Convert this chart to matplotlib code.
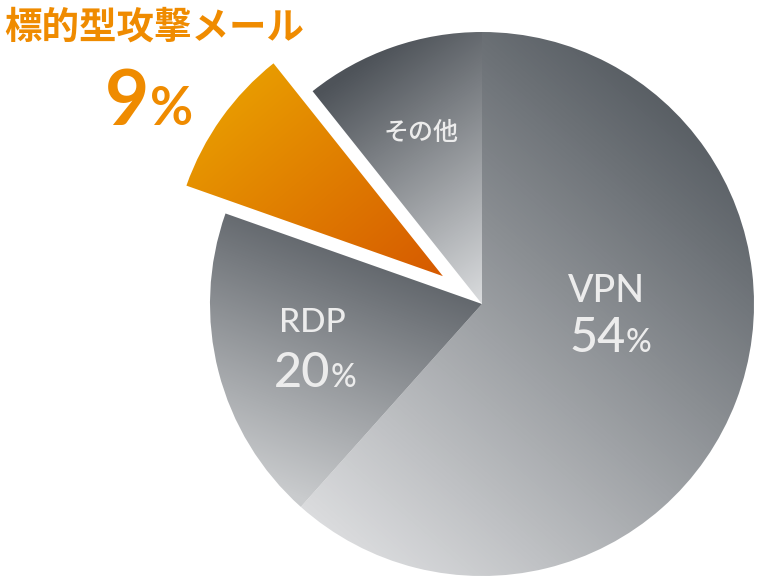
import numpy as np
import matplotlib
matplotlib.use('Agg')
import matplotlib.pyplot as plt
from matplotlib.colors import LinearSegmentedColormap

plt.rcParams['font.family'] = ['Lato', 'Noto Sans CJK JP', 'DejaVu Sans']

# データ (図から読み取り。扇形の角度は図の見た目どおり)
categories = ['VPN', 'RDP', '標的型攻撃メール', 'その他']
shares = [61.6, 18.8, 8.9, 10.7]
pct_values = ['54', '20', '9', '']
explode_px = [0, 0, 48, 0]

# 各扇形のグラデーション (濃い色 -> 明るい色)
grad_colors = [('#4f555b', '#dcdddf'),
               ('#565b61', '#c9cbcd'),
               ('#e89a00', '#d65a00'),
               ('#4e5359', '#d8dadc')]
grad_points = [((720, 90), (330, 540)),
               ((380, 230), (280, 490)),
               ((270, 70), (440, 275)),
               ((330, 85), (480, 300))]

W, H = 761, 580
cx, cy, R = 482, H - 304, 272

fig = plt.figure(figsize=(W / 100, H / 100), dpi=100)
ax = fig.add_axes([0, 0, 1, 1])

wedges, _ = ax.pie(shares, explode=explode_px, radius=R, center=(cx, cy),
                   startangle=90, counterclock=False,
                   wedgeprops=dict(linewidth=0))

# グラデーションを扇形でクリップして描く
xx, yy = np.meshgrid(np.arange(W) + 0.5, np.arange(H) + 0.5)
for wedge, (c0, c1), (p0, p1) in zip(wedges, grad_colors, grad_points):
    d = np.array(p1, float) - np.array(p0, float)
    t = ((xx - p0[0]) * d[0] + (yy - p0[1]) * d[1]) / (d @ d)
    t = np.clip(t, 0, 1)
    cmap = LinearSegmentedColormap.from_list('g', [c0, c1])
    im = ax.imshow(t, cmap=cmap, vmin=0, vmax=1, extent=(0, W, 0, H),
                   origin='upper', interpolation='bilinear', zorder=1)
    im.set_clip_path(wedge)
    wedge.set_facecolor('none')

label_col = '#ececec'
orange = '#ef8b00'

def txt(x, y, s, **kw):
    ax.text(x, H - y, s, zorder=5, **kw)

# VPN
txt(607, 302, categories[0], color=label_col, fontsize=27, fontweight='medium', ha='center', va='baseline')
txt(626, 352, pct_values[0], color=label_col, fontsize=35, fontweight='medium', ha='right', va='baseline')
txt(626, 352, '%', color=label_col, fontsize=23, fontweight='medium', ha='left', va='baseline')
# RDP
txt(312, 332, categories[1], color=label_col, fontsize=24, fontweight='medium', ha='center', va='baseline')
txt(330, 387, pct_values[1], color=label_col, fontsize=35, fontweight='medium', ha='right', va='baseline')
txt(331, 387, '%', color=label_col, fontsize=23, fontweight='medium', ha='left', va='baseline')
# 標的型攻撃メール
txt(4, 39, categories[2], color=orange, fontsize=27, fontweight='bold',
    ha='left', va='baseline', family=['Noto Sans CJK JP'])
txt(149, 125, pct_values[2], color=orange, fontsize=55, fontweight='bold', ha='right', va='baseline')
txt(150, 125, '%', color=orange, fontsize=38, fontweight='bold', ha='left', va='baseline')
# その他
txt(421, 133, categories[3], color=label_col, fontsize=18, fontweight='medium',
    ha='center', va='center', family=['Noto Sans CJK JP'])

ax.set_xlim(0, W)
ax.set_ylim(0, H)
ax.set_aspect('auto')
ax.axis('off')
fig.savefig('out.png', dpi=100)
